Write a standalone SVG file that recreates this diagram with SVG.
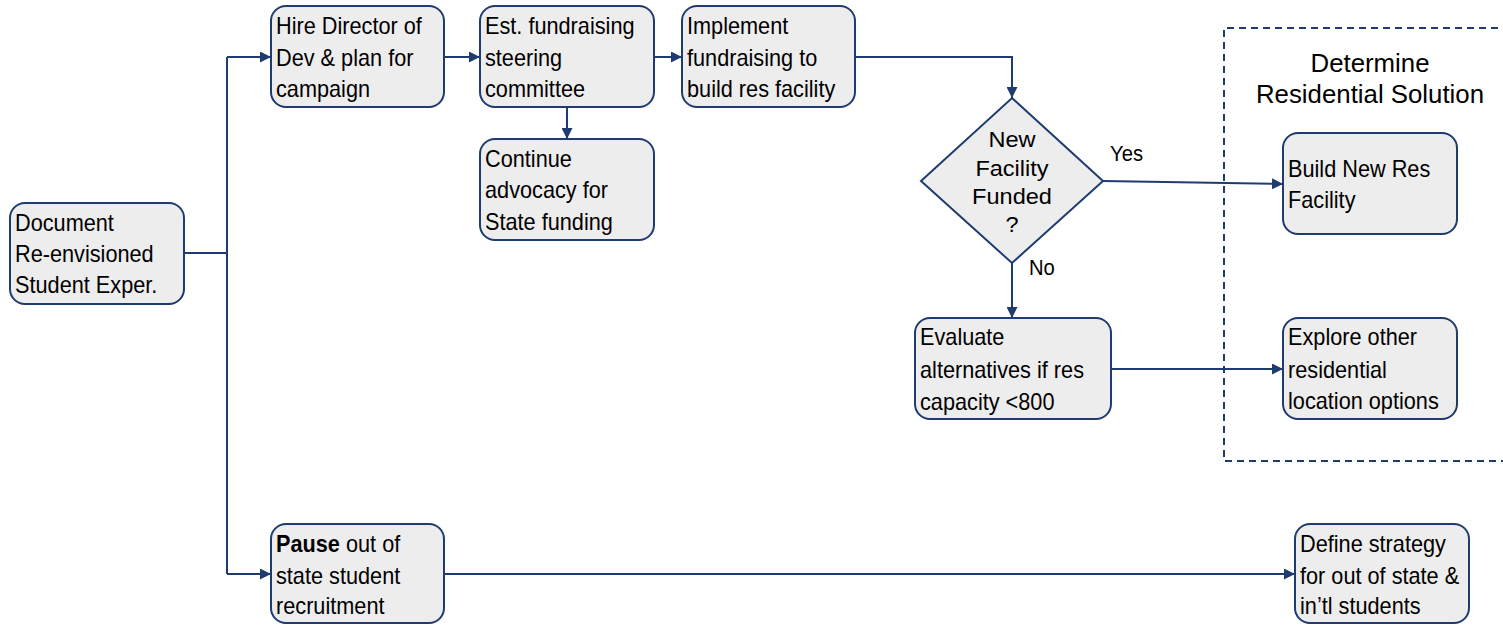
<svg xmlns="http://www.w3.org/2000/svg" width="1503" height="625" viewBox="0 0 1503 625">
<style>
.box{fill:#ededed;stroke:#1f3c70;stroke-width:2}
.t{font-family:"Liberation Sans",Arial,sans-serif;font-size:23.6px;fill:#000}
.d{font-family:"Liberation Sans",Arial,sans-serif;font-size:22px;fill:#000;text-anchor:middle}
.h{font-family:"Liberation Sans",Arial,sans-serif;font-size:25.8px;fill:#000;text-anchor:middle}
.ln{fill:none;stroke:#1f3c70;stroke-width:2}
.dash{fill:none;stroke:#1f3c70;stroke-width:2;stroke-dasharray:7 5}
</style>
<defs>
<marker id="ah" viewBox="0 0 10 10" refX="10" refY="5" markerWidth="5.5" markerHeight="5.5" orient="auto" markerUnits="strokeWidth">
<path d="M0,0 L10,5 L0,10 z" fill="#1f3c70"/>
</marker>
</defs>
<rect width="1503" height="625" fill="#fff"/>
<g id="group-residential">
<path class="dash" d="M1510,28 H1224 V461 H1510"/>
<text class="h" x="1370" y="72">Determine</text>
<text class="h" x="1370" y="103">Residential Solution</text>
</g>
<g id="connectors">
<path class="ln" d="M184,253 H227"/>
<path class="ln" d="M227,57 V574"/>
<path class="ln" d="M227,57 H271" marker-end="url(#ah)"/>
<path class="ln" d="M227,574 H271" marker-end="url(#ah)"/>
<path class="ln" d="M444,57 H480" marker-end="url(#ah)"/>
<path class="ln" d="M654,57 H682" marker-end="url(#ah)"/>
<path class="ln" d="M567,107 V139" marker-end="url(#ah)"/>
<path class="ln" d="M855,57 H1012 V98" marker-end="url(#ah)"/>
<path class="ln" d="M1103,181 L1283,184" marker-end="url(#ah)"/>
<path class="ln" d="M1012,263 V318" marker-end="url(#ah)"/>
<path class="ln" d="M1111,369 H1283" marker-end="url(#ah)"/>
<path class="ln" d="M444,574 H1295" marker-end="url(#ah)"/>
<text class="d" style="text-anchor:start" transform="matrix(0.92,0,0,1,1110,161)">Yes</text>
<text class="d" style="text-anchor:start" transform="matrix(0.92,0,0,1,1029,275)">No</text>
</g>
<g id="n-document">
<rect class="box" x="10" y="203" width="174" height="101" rx="15"/>
<text class="t" transform="matrix(0.92,0,0,1,15,231)">Document</text>
<text class="t" transform="matrix(0.92,0,0,1,15,262)">Re-envisioned</text>
<text class="t" transform="matrix(0.92,0,0,1,15,293)">Student Exper.</text>
</g>
<g id="n-hire">
<rect class="box" x="271" y="6" width="173" height="101" rx="15"/>
<text class="t" transform="matrix(0.92,0,0,1,276,34)">Hire Director of</text>
<text class="t" transform="matrix(0.92,0,0,1,276,66)">Dev &amp; plan for</text>
<text class="t" transform="matrix(0.92,0,0,1,276,97)">campaign</text>
</g>
<g id="n-est">
<rect class="box" x="480" y="6" width="174" height="101" rx="15"/>
<text class="t" transform="matrix(0.92,0,0,1,485,34)">Est. fundraising</text>
<text class="t" transform="matrix(0.92,0,0,1,485,66)">steering</text>
<text class="t" transform="matrix(0.92,0,0,1,485,97)">committee</text>
</g>
<g id="n-continue">
<rect class="box" x="480" y="139" width="174" height="101" rx="15"/>
<text class="t" transform="matrix(0.92,0,0,1,485,167)">Continue</text>
<text class="t" transform="matrix(0.92,0,0,1,485,198)">advocacy for</text>
<text class="t" transform="matrix(0.92,0,0,1,485,230)">State funding</text>
</g>
<g id="n-implement">
<rect class="box" x="682" y="6" width="173" height="101" rx="15"/>
<text class="t" transform="matrix(0.92,0,0,1,687,34)">Implement</text>
<text class="t" transform="matrix(0.92,0,0,1,687,66)">fundraising to</text>
<text class="t" transform="matrix(0.92,0,0,1,687,97)">build res facility</text>
</g>
<g id="n-decision">
<polygon class="box" points="1012,98 1103,181 1012,263 921,181"/>
<text class="d" transform="matrix(1.07,0,0,1,1012,147)">New</text>
<text class="d" transform="matrix(1.07,0,0,1,1012,176)">Facility</text>
<text class="d" transform="matrix(1.07,0,0,1,1012,204)">Funded</text>
<text class="d" transform="matrix(1.07,0,0,1,1012,232)">?</text>
</g>
<g id="n-build">
<rect class="box" x="1283" y="133" width="174" height="101" rx="15"/>
<text class="t" transform="matrix(0.92,0,0,1,1288,177)">Build New Res</text>
<text class="t" transform="matrix(0.92,0,0,1,1288,208)">Facility</text>
</g>
<g id="n-evaluate">
<rect class="box" x="915" y="318" width="196" height="101" rx="15"/>
<text class="t" transform="matrix(0.92,0,0,1,920,345)">Evaluate</text>
<text class="t" transform="matrix(0.92,0,0,1,920,378)">alternatives if res</text>
<text class="t" transform="matrix(0.92,0,0,1,920,410)">capacity &lt;800</text>
</g>
<g id="n-explore">
<rect class="box" x="1283" y="318" width="174" height="101" rx="15"/>
<text class="t" transform="matrix(0.92,0,0,1,1288,345)">Explore other</text>
<text class="t" transform="matrix(0.92,0,0,1,1288,378)">residential</text>
<text class="t" transform="matrix(0.92,0,0,1,1288,409)">location options</text>
</g>
<g id="n-pause">
<rect class="box" x="271" y="524" width="173" height="99" rx="15"/>
<text class="t" transform="matrix(0.92,0,0,1,276,552)"><tspan font-weight="bold">Pause</tspan> out of</text>
<text class="t" transform="matrix(0.92,0,0,1,276,584)">state student</text>
<text class="t" transform="matrix(0.92,0,0,1,276,614)">recruitment</text>
</g>
<g id="n-define">
<rect class="box" x="1295" y="524" width="174" height="99" rx="15"/>
<text class="t" transform="matrix(0.92,0,0,1,1300,552)">Define strategy</text>
<text class="t" transform="matrix(0.92,0,0,1,1300,584)">for out of state &amp;</text>
<text class="t" transform="matrix(0.92,0,0,1,1300,614)">in’tl students</text>
</g>
</svg>
